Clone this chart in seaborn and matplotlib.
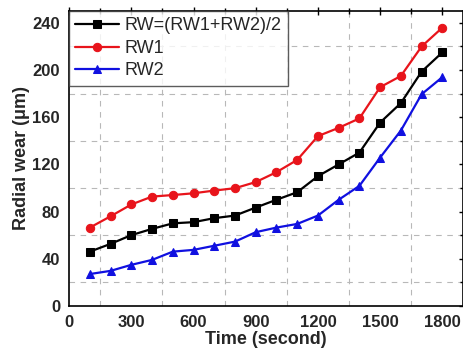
import numpy as np
import pandas as pd
import matplotlib.pyplot as plt
from matplotlib.ticker import MultipleLocator
import seaborn as sns

# Data
time = [100, 200, 300, 400, 500, 600, 700, 800, 900, 1000,
        1100, 1200, 1300, 1400, 1500, 1600, 1700, 1800]
rw_mean = [46, 52.6, 60, 65.3, 70, 71, 74.4, 76.6, 83.4, 90,
           96.4, 110, 120, 130, 155.5, 172, 198.7, 215]
rw1 = [66.4, 76, 86, 92.7, 94, 95.5, 97.8, 99.8, 105, 113.4,
       123.8, 144, 151, 159, 185.5, 195, 220, 236]
rw2 = [27, 29.7, 34.8, 39, 46, 47.5, 51, 54.5, 62.5, 66.4,
       69.5, 76.6, 90, 101.8, 125.8, 148.7, 179.5, 194]

labels = ["RW=(RW1+RW2)/2", "RW1", "RW2"]
colors = ["black", "#e8141b", "#1010e0"]
markers = ["s", "o", "^"]

df = pd.concat([
    pd.DataFrame({"Time": time, "Wear": v, "Series": lab})
    for v, lab in zip([rw_mean, rw1, rw2], labels)
])

sns.set_style("white")
plt.rcParams["font.family"] = ["Liberation Sans", "DejaVu Sans"]
plt.rcParams["font.weight"] = "bold"

fig = plt.figure(figsize=(4.64, 3.59), dpi=100)
ax = fig.add_axes([0.149, 0.148, 0.849, 0.821])

for lab, c, m in zip(labels, colors, markers):
    sns.lineplot(data=df[df["Series"] == lab], x="Time", y="Wear", ax=ax,
                 color=c, marker=m, markersize=6, markeredgecolor=c,
                 linewidth=1.6, label=lab)

ax.set_xlim(0, 1900)
ax.set_ylim(0, 250)
ax.xaxis.set_major_locator(MultipleLocator(300))
ax.xaxis.set_minor_locator(MultipleLocator(150))
ax.yaxis.set_major_locator(MultipleLocator(40))
ax.yaxis.set_minor_locator(MultipleLocator(20))
ax.grid(False)
ax.grid(which="minor", linestyle=(0, (5, 5)), color="#b8b8b8", linewidth=0.8)

for s in ax.spines.values():
    s.set_color("black")
    s.set_linewidth(1.2)
ax.tick_params(which="both", direction="inout", top=True, right=True,
               color="black", width=1)
ax.tick_params(which="major", length=6, labelsize=12)
ax.tick_params(which="minor", length=4)
for t in ax.get_xticklabels() + ax.get_yticklabels():
    t.set_fontweight("bold")

ax.set_xlabel("Time (second)", fontsize=13, fontweight="bold", labelpad=1)
ax.set_ylabel("Radial wear (\u03bcm)", fontsize=13, fontweight="bold", labelpad=2)

leg = ax.legend(loc="upper left", fontsize=13, frameon=True, fancybox=False,
                borderaxespad=0, handlelength=2.4, handletextpad=0.3,
                labelspacing=0.3, borderpad=0.35)
leg.get_frame().set_edgecolor("#333333")
leg.get_frame().set_linewidth(1)
for t in leg.get_texts():
    t.set_fontweight("normal")

plt.savefig("out.png", dpi=100)
